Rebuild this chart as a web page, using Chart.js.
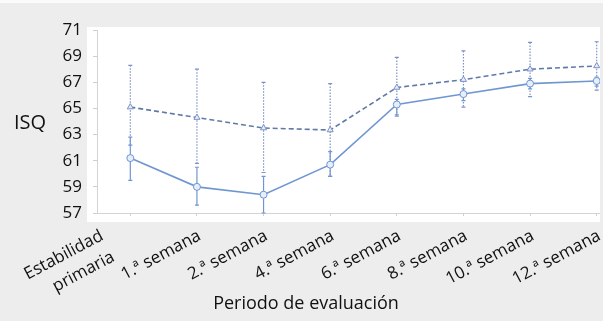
<!DOCTYPE html>
<html>
<head>
<meta charset="utf-8">
<script src="https://cdn.jsdelivr.net/npm/chart.js@4.4.1/dist/chart.umd.min.js"></script>
<style>
  html, body { margin: 0; padding: 0; overflow: hidden; width: 603px; height: 321px; background: #ededed; }
  canvas { display: block; }
</style>
</head>
<body>
<canvas id="chart" width="640" height="321"></canvas>
<script>
const periods = [['Estabilidad', 'primaria'], '1.ª semana', '2.ª semana', '4.ª semana',
  '6.ª semana', '8.ª semana', '10.ª semana', '12.ª semana'];

// solid series (lower) with its error range
const isqSolid = [61.2, 59.0, 58.4, 60.7, 65.3, 66.1, 66.9, 67.1];
const isqSolidHigh = [62.8, 60.5, 59.8, 61.7, 65.7, 66.5, 67.3, 67.4];
const isqSolidLow = [59.5, 57.6, 57.0, 59.8, 64.5, 65.6, 66.5, 66.7];

// dashed series (upper) with its error range
const isqDashed = [65.1, 64.3, 63.5, 63.35, 66.6, 67.2, 68.0, 68.25];
const isqDashedHigh = [68.3, 68.0, 67.0, 66.9, 68.9, 69.4, 70.05, 70.1];
const isqDashedLow = [62.2, 60.8, 60.1, 59.8, 64.4, 65.1, 65.9, 66.4];

const yMin = 57, yMax = 71, yStep = 2;

const solidColor = 'rgb(112,150,210)';
const dashedColor = 'rgb(95,122,170)';
const dottedColor = 'rgb(125,145,200)';
const font = 'Open Sans';
const labelAngle = 28;

const errorBars = {
  id: 'errorBars',
  beforeDatasetsDraw(chart) {
    const { ctx, scales: { x, y } } = chart;
    const sets = [
      { hi: isqDashedHigh, lo: isqDashedLow, color: dottedColor, dash: [1.5, 1.5] },
      { hi: isqSolidHigh, lo: isqSolidLow, color: solidColor, dash: [] }
    ];
    ctx.save();
    sets.forEach(s => {
      ctx.strokeStyle = s.color;
      ctx.lineWidth = 1.2;
      s.hi.forEach((h, i) => {
        const px = x.getPixelForValue(i);
        const top = y.getPixelForValue(h);
        const bot = y.getPixelForValue(s.lo[i]);
        ctx.setLineDash(s.dash);
        ctx.beginPath();
        ctx.moveTo(px, top);
        ctx.lineTo(px, bot);
        ctx.stroke();
        ctx.setLineDash([]);
        ctx.beginPath();
        ctx.moveTo(px - 2, top); ctx.lineTo(px + 2, top);
        ctx.moveTo(px - 2, bot); ctx.lineTo(px + 2, bot);
        ctx.stroke();
      });
    });
    ctx.restore();
  }
};

// slanted category labels, the two-line one is pulled back to the left
const periodLabels = {
  id: 'periodLabels',
  afterDraw(chart) {
    const { ctx, chartArea, scales: { x } } = chart;
    const th = labelAngle * Math.PI / 180;
    const lh = 24;
    ctx.save();
    ctx.fillStyle = '#111';
    ctx.font = `17px "${font}"`;
    ctx.textAlign = 'right';
    ctx.textBaseline = 'alphabetic';
    periods.forEach((lab, i) => {
      const lines = Array.isArray(lab) ? lab : [lab];
      const bx = x.getPixelForValue(i) + 5 - (lines.length > 1 ? 31 : 0);
      const by = chartArea.bottom + 26;
      lines.forEach((ln, k) => {
        ctx.save();
        ctx.translate(bx + k * lh * Math.sin(th), by + k * lh * Math.cos(th));
        ctx.rotate(-th);
        ctx.fillText(ln, 0, 0);
        ctx.restore();
      });
    });
    ctx.restore();
  }
};

const panel = {
  id: 'panel',
  beforeDraw(chart) {
    const { ctx, chartArea } = chart;
    ctx.save();
    ctx.fillStyle = '#ededed';
    ctx.fillRect(0, 0, chart.width, chart.height);
    ctx.fillStyle = '#fafafa';
    ctx.fillRect(0, 0, chart.width, 3);
    ctx.fillStyle = '#ffffff';
    ctx.fillRect(chartArea.left - 10, chartArea.top - 3, 600 - (chartArea.left - 10), chartArea.bottom - chartArea.top + 12);
    ctx.restore();
  },
  afterDraw(chart) {
    const { ctx, chartArea } = chart;
    ctx.save();
    // trim the plot at the right edge of the panel
    ctx.fillStyle = '#ededed';
    ctx.fillRect(600, 3, chart.width - 600, chartArea.bottom + 9 - 3);
    ctx.fillStyle = '#111';
    ctx.textBaseline = 'middle';
    ctx.textAlign = 'left';
    ctx.font = `20px "${font}"`;
    ctx.fillText('ISQ', 14, 123);
    ctx.textAlign = 'center';
    ctx.font = `18px "${font}"`;
    ctx.fillText('Periodo de evaluación', 306, 304);
    ctx.restore();
  }
};

new Chart(document.getElementById('chart'), {
  type: 'line',
  data: {
    labels: periods,
    datasets: [
      {
        data: isqDashed,
        borderColor: dashedColor,
        borderWidth: 1.6,
        borderDash: [5, 3],
        pointStyle: 'triangle',
        pointRadius: 3.5,
        pointBorderWidth: 1,
        pointBorderColor: dottedColor,
        pointBackgroundColor: 'rgba(230,238,250,1)',
        tension: 0
      },
      {
        data: isqSolid,
        borderColor: solidColor,
        borderWidth: 1.6,
        pointStyle: 'circle',
        pointRadius: 3.5,
        pointBorderWidth: 1,
        pointBorderColor: solidColor,
        pointBackgroundColor: 'rgba(230,238,250,1)',
        tension: 0
      }
    ]
  },
  options: {
    responsive: false,
    animation: false,
    layout: { padding: { left: 50, top: 30, right: 10, bottom: 2 } },
    plugins: { legend: { display: false }, tooltip: { enabled: false } },
    scales: {
      x: {
        offset: true,
        afterFit(scale) { scale.height = 106; },
        grid: { drawOnChartArea: false, drawTicks: true, tickLength: 3, color: '#cfcfcf' },
        border: { color: '#d4d4d4' },
        ticks: { display: false, autoSkip: false }
      },
      y: {
        min: yMin, max: yMax,
        afterFit(scale) { scale.width = 47; },
        grid: { drawOnChartArea: false, drawTicks: true, tickLength: 4, color: '#cfcfcf' },
        border: { color: '#d4d4d4' },
        ticks: {
          stepSize: yStep, color: '#111', padding: 11,
          font: { family: font, size: 17 }
        }
      }
    }
  },
  plugins: [panel, errorBars, periodLabels]
});
</script>
</body>
</html>
